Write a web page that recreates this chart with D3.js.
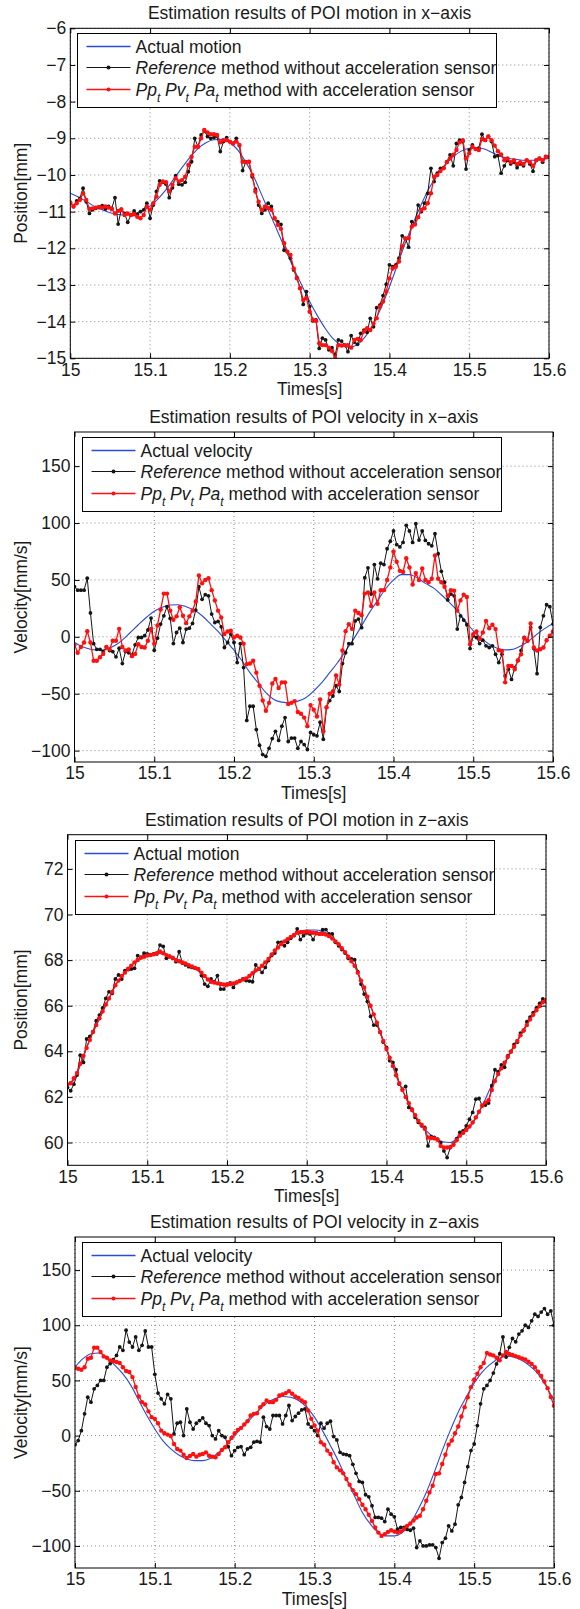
<!DOCTYPE html>
<html lang="en">
<head>
<meta charset="UTF-8">
<title>POI estimation results</title>
<script src="https://cdn.jsdelivr.net/npm/d3@7"></script>
<style>
    body { margin: 0; background: #fff; }
    #graphDiv { width: 580px; height: 1609px; }
    text { font-family: "Liberation Sans", Arial, Helvetica, sans-serif; fill: #1a1a1a; }
</style>
</head>
<body>
<div id="graphDiv"></div>
<script>
// sampling instants: estimators every 4 ms, actual motion every 10 ms
var estTimes = d3.range(151).map(function (k) { return +(15 + k * 0.004).toFixed(3); });
var actTimes = d3.range(61).map(function (k) { return +(15 + k * 0.01).toFixed(2); });
var xTicks = [15, 15.1, 15.2, 15.3, 15.4, 15.5, 15.6];

// ---- x-axis position [mm]
var xPosActual = [-10.5,-10.6,-10.72,-10.85,-10.95,-11.03,-11.08,-11.1,-11.07,-10.98,
    -10.85,-10.65,-10.4,-10.1,-9.8,-9.52,-9.28,-9.12,-9.04,-9.03,
    -9.12,-9.32,-9.65,-10.05,-10.55,-11.05,-11.55,-12.05,-12.55,-13.0,
    -13.45,-13.85,-14.2,-14.48,-14.65,-14.7,-14.62,-14.4,-14.05,-13.6,
    -13.05,-12.45,-11.85,-11.3,-10.8,-10.35,-10.0,-9.72,-9.5,-9.35,
    -9.27,-9.25,-9.3,-9.4,-9.5,-9.55,-9.58,-9.6,-9.6,-9.58,-9.55];
var xPosRef = [-10.77,-10.86,-10.71,-10.64,-10.36,-10.73,-11.05,-10.95,-10.91,-10.89,
    -10.84,-10.93,-10.86,-10.91,-10.62,-11.34,-10.93,-11.05,-11.29,-11.09,
    -10.98,-11.07,-11.0,-10.95,-10.77,-11.18,-10.82,-10.45,-10.16,-10.2,
    -10.25,-10.62,-10.35,-10.02,-10.25,-10.27,-10.2,-9.91,-9.64,-9.0,
    -9.23,-8.91,-8.8,-8.95,-9.0,-8.98,-8.95,-9.36,-9.09,-8.98,
    -9.09,-9.14,-9.0,-9.2,-9.88,-9.64,-9.64,-10.05,-10.39,-10.82,
    -11.05,-10.95,-10.77,-10.86,-11.18,-11.27,-11.35,-12.05,-12.09,-12.27,
    -12.59,-12.8,-13.09,-13.53,-13.18,-13.59,-13.98,-13.95,-14.73,-14.45,
    -14.5,-14.77,-14.71,-14.91,-14.5,-14.53,-14.64,-14.82,-14.38,-14.56,
    -14.62,-14.32,-14.23,-14.29,-13.91,-14.14,-13.62,-13.55,-13.29,-12.98,
    -12.45,-12.5,-12.45,-12.27,-11.66,-11.73,-11.97,-11.27,-11.34,-10.82,
    -11.0,-10.77,-10.5,-9.82,-10.18,-9.95,-9.82,-9.8,-9.64,-9.45,
    -9.75,-9.14,-9.05,-9.09,-9.84,-9.32,-9.18,-9.29,-9.27,-8.89,
    -9.05,-8.95,-9.09,-9.5,-9.47,-9.95,-9.75,-9.6,-9.7,-9.65,
    -9.8,-9.7,-9.75,-9.6,-9.7,-9.9,-9.6,-9.55,-9.65,-9.5,-9.5];
var xPosOurs = [-10.75,-10.86,-10.77,-10.68,-10.5,-10.68,-10.93,-10.91,-10.89,-10.87,
    -10.89,-10.86,-10.89,-10.93,-11.05,-10.98,-10.95,-11.09,-11.05,-11.09,
    -11.07,-11.14,-11.18,-11.09,-10.86,-10.95,-10.77,-10.59,-10.27,-10.18,
    -10.2,-10.45,-10.27,-10.09,-10.18,-10.14,-10.05,-9.73,-9.5,-9.23,
    -9.23,-9.0,-8.77,-8.84,-8.89,-8.89,-8.91,-9.11,-9.05,-9.05,
    -9.09,-9.14,-9.09,-9.18,-9.64,-9.65,-9.64,-10.0,-10.45,-10.73,
    -10.95,-10.86,-10.9,-10.95,-11.18,-11.36,-11.47,-11.86,-12.09,-12.18,
    -12.55,-12.82,-13.09,-13.41,-13.36,-13.73,-13.95,-13.98,-14.59,-14.64,
    -14.64,-14.71,-14.8,-15.0,-14.64,-14.65,-14.64,-14.64,-14.71,-14.5,
    -14.47,-14.5,-14.27,-14.18,-14.23,-14.05,-13.91,-13.59,-13.45,-13.18,
    -12.82,-12.55,-12.5,-12.36,-11.95,-11.73,-11.73,-11.41,-11.35,-11.15,
    -10.95,-10.91,-10.77,-10.5,-10.05,-10.0,-9.89,-9.82,-9.65,-9.55,
    -9.45,-9.32,-9.11,-9.05,-9.55,-9.41,-9.23,-9.29,-9.32,-9.02,
    -9.05,-8.95,-9.05,-9.2,-9.35,-9.44,-9.6,-9.55,-9.65,-9.6,
    -9.7,-9.65,-9.7,-9.6,-9.65,-9.75,-9.6,-9.55,-9.6,-9.5,-9.5];

// ---- x-axis velocity [mm/s]
var xVelActual = [-5,-8.8,-10.9,-11.8,-10.9,-7.9,-2.9,3.8,10.6,17,
    22.4,25.9,28,28.2,26.5,23.5,18.5,11.8,4.7,-3.5,
    -11.8,-21,-31.5,-40.3,-49,-55,-57.4,-58,-56.5,-53.5,
    -47.6,-40.3,-31.5,-22.6,-12.4,-2,9.7,21.5,31.8,42,
    50,54.7,54.7,51.8,47,43,37,30.3,23,14,
    5.3,-1.2,-6.5,-10,-11.5,-10.9,-7.9,-3.5,2.4,7.4,11.8];
var xVelRef = [44,41,41,41,51.5,21,-6,-11,-11,-13,
    -9,-12,-13,-17.6,-10,-23.5,-13,-14,-16,-7,
    -0.6,-0.6,1,6,16.5,-11.8,-1.2,11.2,18.5,26.5,
    16.2,-5.9,3.8,7.6,-5,6.8,7.6,11.8,23.5,44,
    33,37,36,20,12.6,13.5,8.8,-9.4,-5,2.4,
    -5,-22.6,-5.9,-27,-73.5,-61,-61,-81.5,-95.3,-103.5,
    -105,-98,-89.4,-83,-91,-78.5,-71,-92,-89,-89,
    -98,-92,-94.7,-99,-84,-86,-87,-75,-90,-62,
    -56,-52,-43,-48,-23.5,-14,-6,-6,14,15.6,
    8,52,60.6,37.6,63.5,51,64.7,63.5,77.4,84,
    93,81,79,83,98,93,83,99.4,85,93,
    84.7,81.8,80,90.6,73,57.6,48,32.4,37.6,36,
    6.8,18.5,14.7,10.6,-10.3,0.9,-0.6,-5.9,-2.9,-7.9,
    -9.4,-7.9,-15.3,-22.6,-15.3,-34.4,-28.5,-37.4,-27,-21,
    -12,-0.6,-3.5,8.2,-10.3,-32.4,8.2,18.5,28.2,26.5,11.2];
var xVelOurs = [-7,-14,-9,-5,5,-5,-21,-21,-18,-15,
    -9,-11,-3.5,-3.5,7,-9,-12,-11,-17,-15,
    -6.5,-9,-9.4,-3.5,7,-6,10,24,38,38,
    23,15,18,26,18.5,12,18,23,31,54,
    47,50,51.5,41,32,23,17,2.4,4.7,5.3,
    -0.6,1,-0.6,-6,-24,-23.5,-21,-31.5,-43,-56,
    -65,-58,-41,-37,-45,-40,-40,-59,-58,-56.5,
    -66,-67.6,-71,-78.5,-60,-64,-70,-55,-83,-62,
    -50,-48,-34,-42,-12,5,11,7,23,21,
    19,38,39,27,39,29,41,41,50,61,
    75,66,58,57,69,61,46,56,50,60,
    50,48,51,71.5,51,48,44,36,41,40.6,
    23,32,37,35,-6.5,2.4,4.7,-2,3.8,14,
    7.6,10.6,6.8,-11.8,-12.4,-40,-25.6,-25.6,-28.5,-20.6,
    -15.3,-1.2,-3.5,11.8,-9.4,-12,-10.9,-9.4,-3,1,4.7];

// ---- z-axis position [mm]
var zPosActual = [62.5,62.85,63.8,64.7,65.4,66.15,66.88,67.39,67.76,68.05,
    68.22,68.3,68.27,68.12,67.98,67.8,67.64,67.35,67.05,66.95,
    66.9,67.0,67.14,67.32,67.61,67.98,68.41,68.78,69.04,69.25,
    69.32,69.32,69.26,69.04,68.71,68.27,67.75,66.95,66.0,65.05,
    64.1,63.15,62.3,61.54,60.95,60.51,60.22,60.03,60.0,60.22,
    60.51,60.95,61.6,62.37,63.0,63.6,64.2,64.8,65.4,65.9,66.3];
var zPosRef = [62.41,62.27,62.56,62.96,63.83,63.51,64.54,64.65,64.86,65.34,
    65.59,65.9,66.32,66.61,66.54,67.17,67.35,67.17,67.54,67.58,
    67.61,67.64,68.2,68.12,68.31,68.27,68.24,68.27,68.27,68.66,
    68.6,68.08,68.17,68.08,67.93,68.37,67.87,67.79,67.71,67.68,
    67.64,67.61,67.32,66.95,66.85,67.17,67.05,67.32,66.73,66.73,
    66.95,67.0,66.8,67.02,67.1,67.17,67.1,67.08,67.05,67.79,
    67.61,67.46,67.68,67.98,68.2,68.31,68.78,68.78,68.63,68.78,
    68.96,69.07,69.37,68.9,69.07,69.19,69.15,68.9,69.19,69.15,
    69.34,69.34,69.15,69.15,68.78,68.63,68.46,68.31,68.08,68.05,
    68.02,67.49,66.95,66.51,66.18,65.53,65.15,65.15,64.83,64.4,
    64.17,63.59,63.51,63.19,62.56,62.34,62.46,61.54,61.46,61.1,
    60.88,60.73,60.66,59.85,60.26,60.22,60.15,60.0,59.63,59.34,
    59.78,59.93,60.17,60.44,60.51,60.73,61.02,61.32,61.9,61.93,
    61.61,61.64,61.73,62.49,63.19,63.1,63.4,63.3,63.8,64.0,
    64.3,64.4,64.8,64.9,65.3,65.5,65.7,65.9,66.1,66.3,66.2];
var zPosOurs = [62.55,62.6,62.82,63.05,63.45,63.8,64.15,64.5,64.85,65.15,
    65.45,65.75,66.05,66.32,66.6,66.9,67.1,67.3,67.45,67.62,
    67.75,67.9,68.0,68.1,68.15,68.2,68.22,68.25,68.3,68.38,
    68.3,68.22,68.15,68.1,68.0,67.95,67.9,67.85,67.78,67.72,
    67.66,67.6,67.45,67.3,67.15,67.05,67.02,66.98,66.95,66.93,
    66.92,66.95,66.98,67.02,67.08,67.15,67.2,67.3,67.42,67.55,
    67.62,67.75,67.9,68.05,68.25,68.42,68.55,68.7,68.82,68.92,
    69.02,69.1,69.2,69.22,69.22,69.25,69.22,69.2,69.18,69.15,
    69.15,69.12,69.05,68.95,68.82,68.7,68.52,68.35,68.15,67.95,
    67.75,67.45,67.1,66.8,66.4,66.0,65.62,65.25,64.85,64.45,
    64.1,63.72,63.35,62.95,62.6,62.3,62.0,61.72,61.42,61.2,
    60.95,60.78,60.6,60.22,60.2,60.18,60.12,59.85,59.78,59.78,
    59.8,59.9,60.1,60.3,60.42,60.55,60.7,60.88,61.1,61.35,
    61.62,61.75,61.85,62.3,62.7,63.0,63.25,63.5,63.75,63.98,
    64.2,64.45,64.7,64.92,65.15,65.4,65.6,65.8,65.98,66.15,66.25];

// ---- z-axis velocity [mm/s]
var zVelActual = [62,69.7,74.2,74.8,70.6,63.6,56,45.5,31.8,18.2,
    6,-4.5,-12.1,-17.6,-21.2,-22.7,-22.7,-20.6,-15.2,-8.2,
    0,8.2,15.2,22.7,29.4,33.3,35.5,34.8,31.8,25.8,
    16.7,4.5,-9.1,-23.3,-39.4,-54.5,-69.7,-80.3,-87.9,-90.9,
    -90.9,-87.9,-79.7,-66.7,-51.5,-33.3,-13.6,4.5,21.2,34.8,
    47.6,57.6,64.5,69.7,72,71,68,63,56,45,32];
var zVelRef = [-8.2,-4.5,4.5,19.7,34.8,30.3,42.4,45.5,50,50,
    62,65.2,68.8,72.7,80.3,77.3,95.5,84.8,80.3,89.4,
    77.3,81.8,94.8,80.3,80.3,55.5,38.5,33.3,28.8,37.3,
    33.3,1.5,11.2,12.1,0,24.2,12.1,6,11.2,13.6,
    16,11.2,9.1,0,-3,4.5,0,-1.5,-10,-18.2,
    -13.6,-10.6,-10,-17.3,-12.1,-10.6,-6,-5.2,-6,16.7,
    8.2,6,18.2,18.2,18.2,10.6,18.2,27.3,13.6,17.3,
    20.3,23.3,24.2,10.6,7.6,4.5,0,11.2,6.7,11.2,
    13,-0.9,-3.9,-15.2,-16.7,-17.3,-18.2,-26,-34.2,-41.5,
    -42.4,-53.6,-55.5,-63.6,-74.2,-74.2,-74.8,-77.9,-66.7,-71.2,
    -73.6,-84.8,-83.3,-83.3,-85,-85.8,-83.9,-101.5,-95.5,-100,
    -100,-99.1,-99,-101.5,-111.2,-97,-93,-81.8,-86.4,-80.3,
    -62.7,-56,-42.4,-28.2,-13.6,-7.6,9.1,28.8,42.4,45.5,
    50,56.7,65,74.2,89.4,71.2,80,88,85,92,
    95,100,98,104,110,108,112,115,110,113,100];
var zVelOurs = [61.5,60.6,59.7,62,69.7,70.6,79.7,79.7,75.8,71.8,
    70.6,68.2,67.5,66.7,65.8,62,58.5,57.6,53,44,
    35.5,30.3,28.2,22,16.7,15.2,11.2,4.5,2.1,0.9,
    -0.3,-7.6,-12.1,-13.6,-17.3,-20.3,-18.5,-16.7,-19.1,-17.3,
    -16.7,-15.2,-18.2,-19.1,-19.7,-16.7,-13,-10.6,-6,-2.1,
    2.1,5.2,7,10,13,18.2,19.7,20.3,25.8,28.5,
    31.8,30.3,30.3,32.4,36.4,37.3,38.5,40.3,37.9,35.5,
    34.2,31.8,30.3,22.7,15.2,9.1,4.5,-6,-8.2,-13.6,
    -16.7,-24.2,-28.8,-31.5,-34.2,-39.4,-44.5,-49.4,-53,-57.6,
    -62.7,-66.7,-71.8,-77.3,-83.3,-87.9,-90.9,-89.4,-87.3,-85.8,
    -87,-87.9,-87,-84.8,-81.8,-79.7,-77,-74.2,-72.7,-66.7,
    -59.1,-51.5,-45.5,-34.8,-34.2,-25.8,-17.3,-8.2,-4.5,2.1,
    8.2,17.3,25.8,34.8,43.9,50.6,56,62,65.8,74.8,
    73.5,72.7,70.6,68.2,72.7,75.8,74,73,72,71,
    70,69,67,65,62,58,54,49,43,35,27];

var panels = [
    {title: "Estimation results of POI motion in x\u2212axis", ylabel: "Position[mm]", actLabel: "Actual motion",
        yDomain: [-15, -6], yTicks: [-15, -14, -13, -12, -11, -10, -9, -8, -7, -6],
        act: xPosActual, ref: xPosRef, ours: xPosOurs,
        box: {x0: 70.3, x1: 549, y0: 28.3, y1: 358.3}},
    {title: "Estimation results of POI velocity in x\u2212axis", ylabel: "Velocity[mm/s]", actLabel: "Actual velocity",
        yDomain: [-110, 180], yTicks: [-100, -50, 0, 50, 100, 150],
        act: xVelActual, ref: xVelRef, ours: xVelOurs,
        box: {x0: 74.5, x1: 553, y0: 432, y1: 762}},
    {title: "Estimation results of POI motion in z\u2212axis", ylabel: "Position[mm]", actLabel: "Actual motion",
        yDomain: [59, 73.5], yTicks: [60, 62, 64, 66, 68, 70, 72],
        act: zPosActual, ref: zPosRef, ours: zPosOurs,
        box: {x0: 67.5, x1: 546, y0: 834.7, y1: 1165.3}},
    {title: "Estimation results of POI velocity in z\u2212axis", ylabel: "Velocity[mm/s]", actLabel: "Actual velocity",
        yDomain: [-120, 180], yTicks: [-100, -50, 0, 50, 100, 150],
        act: zVelActual, ref: zVelRef, ours: zVelOurs,
        box: {x0: 75, x1: 554, y0: 1237, y1: 1568}}
];

var colActual = "#2a4bd7", colRef = "#151515", colOurs = "#ff1010";
var fontSize = 17.5;

var svg = d3.select("#graphDiv").append("svg:svg")
    .attr("width", 580)
    .attr("height", 1609);

function zip(ts, vs) {
    return vs.map(function (v, i) { return [ts[i], v]; });
}

function drawPanel(p, idx) {
    var b = p.box;
    var x = d3.scaleLinear().domain([15, 15.6]).range([b.x0, b.x1]);
    var y = d3.scaleLinear().domain(p.yDomain).range([b.y1, b.y0]);
    var g = svg.append("g");

    // dotted grid
    g.selectAll("line.gx").data(xTicks).enter().append("line")
        .attr("x1", function (d) { return x(d); }).attr("x2", function (d) { return x(d); })
        .attr("y1", b.y0).attr("y2", b.y1)
        .attr("stroke", "#666").attr("stroke-width", 0.8).attr("stroke-dasharray", "1,3");
    g.selectAll("line.gy").data(p.yTicks).enter().append("line")
        .attr("x1", b.x0).attr("x2", b.x1)
        .attr("y1", function (d) { return y(d); }).attr("y2", function (d) { return y(d); })
        .attr("stroke", "#666").attr("stroke-width", 0.8).attr("stroke-dasharray", "1,3");

    var clipId = "plotClip" + idx;
    svg.append("clipPath").attr("id", clipId).append("rect")
        .attr("x", b.x0).attr("y", b.y0).attr("width", b.x1 - b.x0).attr("height", b.y1 - b.y0);
    var data = g.append("g").attr("clip-path", "url(#" + clipId + ")");

    var smooth = d3.line().curve(d3.curveMonotoneX)
        .x(function (d) { return x(d[0]); }).y(function (d) { return y(d[1]); });
    var line = d3.line().x(function (d) { return x(d[0]); }).y(function (d) { return y(d[1]); });

    data.append("path").datum(zip(actTimes, p.act))
        .attr("d", smooth)
        .attr("fill", "none").attr("stroke", colActual).attr("stroke-width", 1.1);

    [{vals: p.ref, col: colRef, w: 1, r: 1.9}, {vals: p.ours, col: colOurs, w: 1.3, r: 2.2}].forEach(function (s) {
        var pts = zip(estTimes, s.vals);
        data.append("path").datum(pts)
            .attr("d", line)
            .attr("fill", "none").attr("stroke", s.col).attr("stroke-width", s.w);
        data.append("g").selectAll("circle").data(pts).enter().append("circle")
            .attr("cx", function (d) { return x(d[0]); })
            .attr("cy", function (d) { return y(d[1]); })
            .attr("r", s.r).attr("fill", s.col);
    });

    // axes with inward ticks on all four sides
    var fmtX = function (d) { return String(+d.toFixed(1)); };
    var axB = g.append("g").attr("transform", "translate(0," + b.y1 + ")")
        .call(d3.axisBottom(x).tickValues(xTicks).tickFormat(fmtX).tickSizeInner(-5).tickSizeOuter(0).tickPadding(5));
    var axL = g.append("g").attr("transform", "translate(" + b.x0 + ",0)")
        .call(d3.axisLeft(y).tickValues(p.yTicks).tickSizeInner(-5).tickSizeOuter(0).tickPadding(4));
    var axT = g.append("g").attr("transform", "translate(0," + b.y0 + ")")
        .call(d3.axisTop(x).tickValues(xTicks).tickFormat("").tickSizeInner(-5).tickSizeOuter(0));
    var axR = g.append("g").attr("transform", "translate(" + b.x1 + ",0)")
        .call(d3.axisRight(y).tickValues(p.yTicks).tickFormat("").tickSizeInner(-5).tickSizeOuter(0));
    [axB, axL, axT, axR].forEach(function (a) {
        a.select(".domain").remove();
        a.attr("font-size", fontSize).attr("font-family", null);
        a.selectAll("line").attr("stroke", "#000");
        a.selectAll("text").attr("fill", "#1a1a1a");
    });

    g.append("rect").attr("x", b.x0).attr("y", b.y0)
        .attr("width", b.x1 - b.x0).attr("height", b.y1 - b.y0)
        .attr("fill", "none").attr("stroke", "#000").attr("stroke-width", 1);

    // labels
    var cx = (b.x0 + b.x1) / 2;
    g.append("text").attr("x", cx).attr("y", b.y0 - 9).attr("text-anchor", "middle")
        .attr("font-size", fontSize).text(p.title);
    g.append("text").attr("x", cx).attr("y", b.y1 + 37).attr("text-anchor", "middle")
        .attr("font-size", fontSize).text("Times[s]");
    g.append("text").attr("transform", "translate(27," + ((b.y0 + b.y1) / 2) + ") rotate(-90)")
        .attr("text-anchor", "middle").attr("font-size", fontSize).text(p.ylabel);

    // legend (text is clipped by the box, as in the original figure)
    var lw = 419, lh = 74;
    var lx = Math.round(b.x0 + 7) + 0.5, ly = Math.round(b.y0 + 5) + 0.5;
    var lg = g.append("g").attr("transform", "translate(" + lx + "," + ly + ")");
    lg.append("rect").attr("width", lw).attr("height", lh)
        .attr("fill", "#fff").attr("stroke", "#000").attr("stroke-width", 1);
    var lclip = "legClip" + idx;
    svg.append("clipPath").attr("id", lclip).append("rect").attr("width", lw - 0.5).attr("height", lh);
    var rows = [
        {cy: 13, col: colActual, dot: false, w: 1.3},
        {cy: 34, col: colRef, dot: true, w: 1.1},
        {cy: 56, col: colOurs, dot: true, w: 1.3}
    ];
    rows.forEach(function (r, i) {
        lg.append("line").attr("x1", 9).attr("x2", 53).attr("y1", r.cy).attr("y2", r.cy)
            .attr("stroke", r.col).attr("stroke-width", r.w);
        if (r.dot) lg.append("circle").attr("cx", 31).attr("cy", r.cy).attr("r", 2).attr("fill", r.col);
        var t = lg.append("text").attr("x", 58).attr("y", r.cy + 6)
            .attr("font-size", fontSize).attr("clip-path", "url(#" + lclip + ")")
            .style("white-space", "pre");
        if (i === 0) {
            t.text(p.actLabel);
        } else if (i === 1) {
            t.append("tspan").attr("font-style", "italic").text("Reference");
            t.append("tspan").text(" method without acceleration sensor");
        } else {
            ["Pp", "Pv", "Pa"].forEach(function (s, j) {
                t.append("tspan").attr("font-style", "italic").attr("dy", j === 0 ? 0 : -6).text((j === 0 ? "" : " ") + s);
                t.append("tspan").attr("font-style", "italic").attr("font-size", 12).attr("dy", 6).text("t");
            });
            t.append("tspan").attr("dy", -6).text(" method with acceleration sensor");
        }
    });
}

panels.forEach(drawPanel);
</script>
</body>
</html>
